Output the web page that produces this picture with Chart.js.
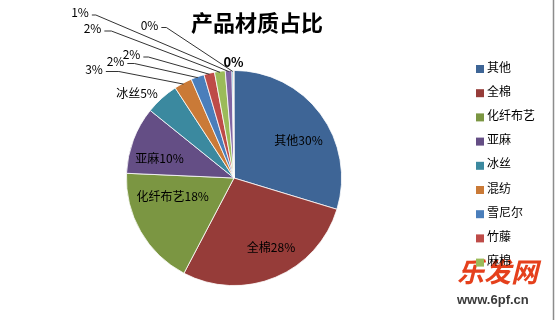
<!DOCTYPE html>
<html><head><meta charset="utf-8">
<script src="https://cdn.jsdelivr.net/npm/chart.js@4.4.0/dist/chart.umd.min.js"></script>
<style>html,body{margin:0;padding:0;background:#fff}#wrap{width:556px;height:320px;position:relative}</style>
</head><body><div id="wrap"><canvas id="c" width="556" height="320"></canvas></div>
<script>
const titleText = '产品材质占比';
const categories = ['其他','全棉','化纤布艺','亚麻','冰丝','混纺','雪尼尔','竹藤','麻棉','','',''];
const values = [29.7, 28.0, 18.0, 10.1, 5.0, 2.7, 2.0, 1.6, 1.6, 1.0, 0.2, 0.1];
const colors = ['#3E6596','#963C39','#7B9642','#644E85','#3B899F','#CA7A37','#4A7EBB','#BE4B48','#9BBB59','#8064A2','#4BACC6','#F79646'];
const legendCount = 9;

const CJK = '"Noto Sans CJK SC","Noto Sans",sans-serif';

// label layout (style only): inside labels nudged from 0.7r mid-point; outside labels offset from pie centre
const insideNudge = {0:[4,7.5],1:[8,0],2:[4,-19],3:[-4,7.5]};
const outsideLabels = {
  4:{dx:-97,dy:-85,name:true,leader:false},
  5:{dx:-140,dy:-109,leader:true,h:13},
  6:{dx:-118.5,dy:-117,leader:true,h:7},
  7:{dx:-102.5,dy:-123.5,leader:true,h:5},
  8:{dx:-141.5,dy:-149.5,leader:true,h:7},
  9:{dx:-154,dy:-165.5,leader:true,h:4},
  10:{dx:-84.5,dy:-153,leader:true,h:5},
  11:{dx:-0.5,dy:-116,leader:false,bold:true}
};

const total = values.reduce((a,b)=>a+b,0);
const pct = values.map(v => Math.round(v/total*100) + '%');

const decor = {
  id:'decor',
  beforeDraw(chart){
    const ctx = chart.ctx;
    ctx.save();
    ctx.fillStyle = '#fff';
    ctx.fillRect(0,0,chart.width,chart.height);
    ctx.fillStyle = '#000';
    ctx.font = 'bold 22px ' + CJK;
    ctx.textAlign = 'center';
    ctx.textBaseline = 'middle';
    ctx.fillText(titleText, 257, 23);
    ctx.strokeStyle = '#8c8c8c';
    ctx.lineWidth = 1.5;
    ctx.beginPath(); ctx.moveTo(553.5,0); ctx.lineTo(553.5,320); ctx.stroke();
    ctx.restore();
  },
  afterDatasetsDraw(chart){
    const ctx = chart.ctx;
    const meta = chart.getDatasetMeta(0);
    ctx.save();
    ctx.textBaseline = 'middle';
    meta.data.forEach((arc, i) => {
      const mid = (arc.startAngle + arc.endAngle)/2;
      const cx = arc.x, cy = arc.y, r = arc.outerRadius;
      if (insideNudge[i]) {
        const n = insideNudge[i];
        const x = cx + Math.cos(mid)*r*0.7 + n[0];
        const y = cy + Math.sin(mid)*r*0.7 + n[1];
        ctx.font = '12px ' + CJK;
        ctx.fillStyle = '#000';
        ctx.textAlign = 'center';
        ctx.fillText(categories[i] + pct[i], x, y);
        return;
      }
      const o = outsideLabels[i];
      if (!o) return;
      const txt = (o.name ? categories[i] : '') + pct[i];
      ctx.font = (o.bold ? 'bold 13px ' : '12px ') + CJK;
      ctx.fillStyle = '#000';
      ctx.textAlign = 'center';
      const tx = cx + o.dx, ty = cy + o.dy;
      ctx.fillText(txt, tx, ty);
      if (o.leader) {
        const w = ctx.measureText(txt).width;
        const sx = tx + w/2 + 3, sy = ty + 2.5;
        const ex = cx + Math.cos(mid)*(r-1), ey = cy + Math.sin(mid)*(r-1);
        ctx.strokeStyle = '#333';
        ctx.lineWidth = 1;
        ctx.beginPath();
        ctx.moveTo(sx, sy);
        ctx.lineTo(sx + o.h, sy);
        ctx.lineTo(ex, ey);
        ctx.stroke();
      }
    });
    ctx.textAlign = 'left';
    ctx.fillStyle = '#E5401C';
    ctx.font = 'italic bold 27px ' + CJK;
    ctx.fillText('乐发网', 457, 272);
    ctx.fillStyle = '#3a3a3a';
    ctx.font = 'bold 13px "Liberation Sans",Arial,sans-serif';
    ctx.fillText('www.6pf.cn', 457, 300);
    ctx.font = '12px ' + CJK;
    for (let i = 0; i < legendCount; i++) {
      const y = 67 + i*24.2;
      ctx.fillStyle = colors[i];
      ctx.fillRect(476, y - 2, 8, 8);
      ctx.fillStyle = '#000';
      ctx.fillText(categories[i], 487, y);
    }
    ctx.restore();
  }
};

new Chart(document.getElementById('c'), {
  type:'pie',
  data:{ labels: categories, datasets:[{ data: values, backgroundColor: colors, borderColor:'#ffffff', borderWidth:0.8 }]},
  options:{
    responsive:false, animation:false,
    layout:{ padding:{ left:126, right:214, top:70, bottom:34 } },
    plugins:{ legend:{display:false}, tooltip:{enabled:false}, title:{display:false} }
  },
  plugins:[decor]
});
</script></body></html>
